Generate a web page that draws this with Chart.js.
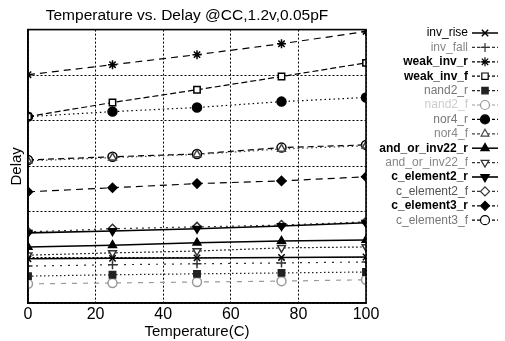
<!DOCTYPE html>
<html>
<head>
<meta charset="utf-8">
<script src="https://cdn.jsdelivr.net/npm/chart.js@4"></script>
<style>
  html, body { margin: 0; padding: 0; background: #fff; }
  #wrap { width: 505px; height: 341px; }
</style>
</head>
<body>
<div id="wrap"><canvas id="myChart" width="505" height="341"></canvas></div>
<script>
var temps = [0, 25, 50, 75, 100];
var xTicks = [0, 20, 40, 60, 80, 100];

var invRise = [0.97, 0.98, 0.99, 1.00, 1.01];
var invFall = [0.81, 0.84, 0.86, 0.88, 0.90];
var weakInvR = [5.01, 5.23, 5.45, 5.69, 5.96];
var weakInvF = [4.09, 4.40, 4.68, 4.97, 5.27];
var nand2R = [0.59, 0.62, 0.64, 0.66, 0.68];
var nand2F = [0.42, 0.44, 0.46, 0.48, 0.51];
var nor4R = [4.09, 4.20, 4.29, 4.42, 4.51];
var nor4F = [3.12, 3.19, 3.26, 3.38, 3.45];
var andOrInv22R = [1.23, 1.27, 1.32, 1.36, 1.38];
var andOrInv22F = [1.05, 1.10, 1.14, 1.21, 1.23];
var cElement2R = [1.54, 1.58, 1.63, 1.69, 1.76];
var cElement2F = [1.56, 1.63, 1.67, 1.71, 1.78];
var cElement3R = [2.44, 2.53, 2.62, 2.68, 2.77];
var cElement3F = [3.14, 3.21, 3.27, 3.41, 3.47];

function series(label, data, opts) {
  return {
    label: label,
    data: data.map(function (v, i) { return { x: temps[i], y: v }; }),
    borderColor: opts.color || "#000",
    backgroundColor: opts.fill || opts.color || "#000",
    borderWidth: opts.width || 1.2,
    borderDash: opts.dash || [],
    pointStyle: opts.point,
    pointRotation: opts.rot || 0,
    pointRadius: opts.r || 4.5,
    pointBorderColor: opts.color || "#000",
    pointBackgroundColor: opts.fill || opts.color || "#000",
    pointBorderWidth: 1.5,
    textColor: opts.text || "#000",
    textBold: !!opts.bold,
  };
}

var datasets = [
  series("inv_rise", invRise, { point: "crossRot", width: 1.5 }),
  series("inv_fall", invFall, { point: "cross", dash: [2, 6], color: "#333", text: "#888" }),
  series("weak_inv_r", weakInvR, { point: "star", dash: [7, 5], bold: true }),
  series("weak_inv_f", weakInvF, { point: "rect", fill: "#fff", dash: [6, 3], bold: true }),
  series("nand2_r", nand2R, { point: "rect", dash: [1.5, 2.5], color: "#222", text: "#777" }),
  series("nand2_f", nand2F, { point: "circle", fill: "#fff", dash: [5, 6], color: "#999", text: "#ccc" }),
  series("nor4_r", nor4R, { point: "circle", dash: [1.5, 3], text: "#777" }),
  series("nor4_f", nor4F, { point: "triangle", fill: "#fff", dash: [1.5, 3], color: "#444", text: "#888" }),
  series("and_or_inv22_r", andOrInv22R, { point: "triangle", width: 1.5, bold: true }),
  series("and_or_inv22_f", andOrInv22F, { point: "triangle", rot: 180, fill: "#fff", dash: [2, 2], color: "#333", text: "#888" }),
  series("c_element2_r", cElement2R, { point: "triangle", rot: 180, width: 1.6, bold: true }),
  series("c_element2_f", cElement2F, { point: "rectRot", fill: "#fff", dash: [2, 4], color: "#333", text: "#555" }),
  series("c_element3_r", cElement3R, { point: "rectRot", dash: [7, 5], bold: true }),
  series("c_element3_f", cElement3F, { point: "circle", fill: "#fff", dash: [6, 4], text: "#777" }),
];

var frameAndLegend = {
  id: "frameAndLegend",
  afterDatasetsDraw: function (chart) {
    var ctx = chart.ctx;
    var a = chart.chartArea;
    ctx.save();
    ctx.strokeStyle = "#000";
    ctx.lineWidth = 1.6;
    ctx.setLineDash([]);
    ctx.strokeRect(a.left, a.top, a.right - a.left, a.bottom - a.top);

    // legend: text right-aligned, line sample with marker to its right
    var textRight = 468, x0 = 472, x1 = 498, y = 33, step = 14.4;
    chart.data.datasets.forEach(function (ds) {
      ctx.font = (ds.textBold ? "bold " : "") + "12px 'Liberation Sans', Arial, sans-serif";
      ctx.fillStyle = ds.textColor;
      ctx.textAlign = "right";
      ctx.textBaseline = "middle";
      ctx.fillText(ds.label, textRight, y);
      ctx.strokeStyle = ds.borderColor;
      ctx.lineWidth = ds.borderWidth;
      ctx.setLineDash(ds.borderDash.length ? [3, 2] : []);
      ctx.beginPath();
      ctx.moveTo(x0, y);
      ctx.lineTo(x1, y);
      ctx.stroke();
      ctx.setLineDash([]);
      ctx.fillStyle = ds.pointBackgroundColor;
      ctx.strokeStyle = ds.pointBorderColor;
      Chart.helpers.drawPoint(ctx, {
        pointStyle: ds.pointStyle,
        rotation: ds.pointRotation,
        radius: 4.5,
        borderWidth: 1.4,
      }, (x0 + x1) / 2, y);
      y += step;
    });
    ctx.restore();
  },
};

window.onload = function () {
  var ctx = document.getElementById("myChart").getContext("2d");
  new Chart(ctx, {
    type: "line",
    data: { datasets: datasets },
    plugins: [frameAndLegend],
    options: {
      responsive: false,
      animation: false,
      layout: { padding: { right: 139, left: 8, top: 0, bottom: 0 } },
      plugins: {
        legend: { display: false },
        tooltip: { enabled: false },
        title: {
          display: true,
          text: "Temperature vs. Delay @CC,1.2v,0.05pF",
          color: "#000",
          font: { family: "'Liberation Sans', Arial, sans-serif", size: 15.5, weight: "normal" },
          padding: { top: 6, bottom: 5 },
        },
      },
      scales: {
        x: {
          type: "linear",
          min: 0,
          max: 100,
          afterBuildTicks: function (s) { s.ticks = xTicks.map(function (v) { return { value: v }; }); },
          afterFit: function (s) { s.height = 38; },
          grid: { color: "#000", lineWidth: 1, drawTicks: false },
          border: { display: true, color: "#000", width: 1.5, dash: [2, 2] },
          ticks: {
            color: "#000",
            padding: 2,
            maxRotation: 0,
            font: { family: "'Liberation Sans', Arial, sans-serif", size: 16 },
          },
          title: {
            display: true,
            text: "Temperature(C)",
            color: "#000",
            padding: { top: 0, bottom: 0 },
            font: { family: "'Liberation Sans', Arial, sans-serif", size: 15 },
          },
        },
        y: {
          min: 0,
          max: 6,
          ticks: { display: false, stepSize: 1 },
          afterFit: function (s) { s.width = 20; },
          grid: { color: "#000", lineWidth: 1, drawTicks: false },
          border: { display: true, color: "#000", width: 1.5, dash: [2, 2] },
          title: {
            display: true,
            text: "Delay",
            color: "#000",
            padding: { top: 0, bottom: 0 },
            font: { family: "'Liberation Sans', Arial, sans-serif", size: 15 },
          },
        },
      },
    },
  });
};
</script>
</body>
</html>
